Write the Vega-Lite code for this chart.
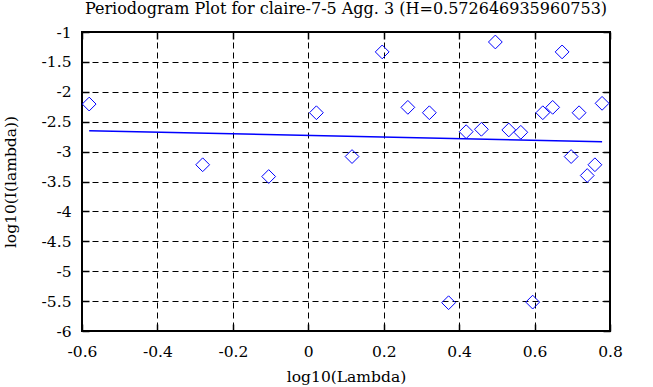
{
  "$schema": "https://vega.github.io/schema/vega-lite/v6.json",
  "autosize": "none",
  "width": 528,
  "height": 299,
  "padding": {"left": 82, "top": 32, "right": 43, "bottom": 56},
  "background": "white",
  "title": {"text": "Periodogram Plot for claire-7-5 Agg. 3 (H=0.572646935960753)", "font": "DejaVu Serif", "fontSize": 16, "fontWeight": "normal", "color": "black", "offset": 6, "dy": 11, "baseline": "alphabetic", "anchor": "middle"},
  "config": {
    "view": {"stroke": "black", "strokeWidth": 2},
    "axis": {"labelFont": "DejaVu Serif", "titleFont": "DejaVu Serif", "labelFontSize": 15.5, "titleFontSize": 15.5, "titleFontWeight": "normal", "labelColor": "black", "titleColor": "black", "domain": false, "grid": true, "gridColor": "black", "gridDash": [6, 4], "gridOpacity": 1, "gridWidth": 1, "tickColor": "black", "tickSize": -7, "tickWidth": 1.5, "labelExpr": "datum.value + ''"}
  },
  "datasets": {
    "pts": [
      {"x": -0.581, "y": -2.205},
      {"x": -0.280, "y": -3.22},
      {"x": -0.105, "y": -3.417},
      {"x": 0.0215, "y": -2.35},
      {"x": 0.116, "y": -3.083},
      {"x": 0.196, "y": -1.333},
      {"x": 0.264, "y": -2.26},
      {"x": 0.321, "y": -2.35},
      {"x": 0.372, "y": -5.527},
      {"x": 0.4186, "y": -2.667},
      {"x": 0.459, "y": -2.627},
      {"x": 0.496, "y": -1.167},
      {"x": 0.5316, "y": -2.638},
      {"x": 0.5635, "y": -2.677},
      {"x": 0.595, "y": -5.517},
      {"x": 0.6218, "y": -2.35},
      {"x": 0.648, "y": -2.26},
      {"x": 0.673, "y": -1.333},
      {"x": 0.697, "y": -3.083},
      {"x": 0.718, "y": -2.35},
      {"x": 0.7396, "y": -3.40},
      {"x": 0.760, "y": -3.22},
      {"x": 0.779, "y": -2.193}
    ],
    "fit": [
      {"x": -0.581, "y": -2.65},
      {"x": 0.779, "y": -2.835}
    ]
  },
  "layer": [
    {
      "data": {"name": "pts"},
      "mark": {"type": "point", "shape": "diamond", "size": 190, "filled": false, "stroke": "#0000ff", "strokeWidth": 1, "opacity": 1},
      "encoding": {
        "x": {"field": "x", "type": "quantitative", "scale": {"domain": [-0.6, 0.8], "nice": false, "zero": false}, "axis": {"title": "log10(Lambda)", "values": [-0.6, -0.4, -0.2, 0, 0.2, 0.4, 0.6, 0.8], "labelPadding": 32, "labelBaseline": "alphabetic", "titleBaseline": "alphabetic", "titleY": 50, "labelFlush": false}},
        "y": {"field": "y", "type": "quantitative", "scale": {"domain": [-6, -1], "nice": false, "zero": false}, "axis": {"title": "log10(I(lambda))", "values": [-6, -5.5, -5, -4.5, -4, -3.5, -3, -2.5, -2, -1.5, -1], "labelPadding": 18, "titleBaseline": "alphabetic", "titleX": -67}}
      }
    },
    {
      "data": {"name": "fit"},
      "mark": {"type": "line", "color": "#0000ff", "strokeWidth": 1.5},
      "encoding": {
        "x": {"field": "x", "type": "quantitative", "scale": {"domain": [-0.6, 0.8], "nice": false, "zero": false}, "axis": {"orient": "top", "labels": false, "title": null, "grid": false, "values": [-0.6, -0.4, -0.2, 0, 0.2, 0.4, 0.6, 0.8]}},
        "y": {"field": "y", "type": "quantitative", "scale": {"domain": [-6, -1], "nice": false, "zero": false}, "axis": {"orient": "right", "labels": false, "title": null, "grid": false, "values": [-6, -5.5, -5, -4.5, -4, -3.5, -3, -2.5, -2, -1.5, -1]}}
      }
    }
  ],
  "resolve": {"axis": {"x": "independent", "y": "independent"}}
}
